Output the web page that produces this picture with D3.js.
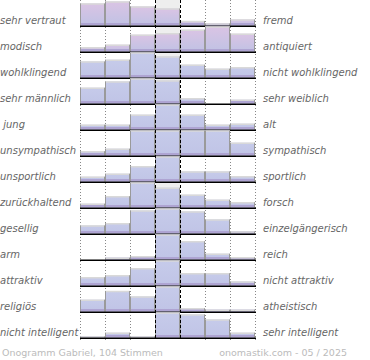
<!DOCTYPE html>
<html><head><meta charset="utf-8">
<script src="https://cdn.jsdelivr.net/npm/d3@7"></script>
<style>
html,body{margin:0;padding:0;background:#fff;}
svg{display:block;}
</style></head>
<body>
<script>
const leftLabels = ["sehr vertraut","modisch","wohlklingend","sehr männlich"," jung","unsympathisch","unsportlich","zurückhaltend","gesellig","arm","attraktiv","religiös","nicht intelligent"];
const rightLabels = ["fremd","antiquiert","nicht wohlklingend","sehr weiblich","alt","sympathisch","sportlich","forsch","einzelgängerisch","reich","nicht attraktiv","atheistisch","sehr intelligent"];
const steps = [1,2,3,4,5,6,7];
const values = [
  [88,96,76,68,18,8,24],
  [17,27,67,73,87,100,71],
  [64,71,100,84,51,35,41],
  [63,88,100,92,21,0,15],
  [19,19,59,100,59,19,23],
  [17,27,100,100,100,100,51],
  [19,31,61,100,40,40,21],
  [15,45,100,79,51,31,21],
  [32,41,92,100,88,56,8],
  [0,7,13,100,73,23,9],
  [33,41,69,100,49,49,16],
  [47,82,60,100,13,7,7],
  [4,19,4,100,92,72,19]
];
const footerLeft = "Onogramm Gabriel, 104 Stimmen";
const footerRight = "onomastik.com - 05 / 2025";

const W = 370, H = 360;
const svg = d3.select("body").append("svg").attr("width", W).attr("height", H);
const defs = svg.append("defs");
const gp = defs.append("linearGradient").attr("id","gPink").attr("x1",0).attr("y1",0).attr("x2",0).attr("y2",1);
gp.append("stop").attr("offset","0%").attr("stop-color","#dac4e4");
gp.append("stop").attr("offset","100%").attr("stop-color","#c0c2e4");
const gb = defs.append("linearGradient").attr("id","gBlue").attr("x1",0).attr("y1",0).attr("x2",0).attr("y2",1);
gb.append("stop").attr("offset","0%").attr("stop-color","#c6cbea");
gb.append("stop").attr("offset","100%").attr("stop-color","#c0c4e6");

const x = d3.scaleBand().domain(steps).range([80, 255]).padding(0);
const y = d3.scaleBand().domain(d3.range(leftLabels.length)).range([0, 338]).padding(0);
const rowH = 25.5;
const h = d3.scaleLinear().domain([0,100]).range([0, 25]).clamp(true);
const base = i => y(i) + rowH;

// center column background
const gBg = svg.append("g");
leftLabels.forEach((_, i) => {
  gBg.append("rect").attr("x", x(4)).attr("y", y(i)).attr("width", x.bandwidth()).attr("height", rowH).attr("fill","#eeeeee");
});

// dotted gridlines
const gridX = [x(1), x(2), x(3), x(6), x(7), x(7)+x.bandwidth()];
svg.append("g").selectAll("line").data(gridX).join("line")
  .attr("x1", d=>d+0.5).attr("x2", d=>d+0.5).attr("y1", 0).attr("y2", 340)
  .attr("stroke","#888").attr("stroke-width",1).attr("stroke-dasharray","1,2");

// bars
const rows = svg.append("g").selectAll("g").data(values).join("g");
rows.each(function(vals, i){
  const g = d3.select(this);
  const b = base(i);
  const fill = i < 2 ? "url(#gPink)" : "url(#gBlue)";
  vals.forEach((v, j) => {
    const s = steps[j];
    const bh = h(v);
    if (bh <= 0) return;
    g.append("rect").attr("x", x(s)).attr("y", b - bh).attr("width", x.bandwidth()).attr("height", bh).attr("fill", fill);
    g.append("rect").attr("x", x(s)).attr("y", b - Math.min(2.5,bh)).attr("width", x.bandwidth()).attr("height", Math.min(2.5,bh)).attr("fill", "#aea4d2");
    g.append("line").attr("x1", x(s)).attr("x2", x(s)+x.bandwidth()).attr("y1", b-bh+0.5).attr("y2", b-bh+0.5).attr("stroke","#d9d9d9").attr("stroke-width",1.5);
    [x(s)+0.5, x(s)+x.bandwidth()-0.5].forEach(px => {
      g.append("line").attr("x1", px).attr("x2", px).attr("y1", b-bh).attr("y2", b).attr("stroke","#9a9a9a").attr("stroke-width",1);
    });
  });
  g.append("line").attr("x1", 80).attr("x2", 256).attr("y1", b+0.75).attr("y2", b+0.75).attr("stroke","#000").attr("stroke-width",1.5);
});

// dashed center lines
svg.append("g").selectAll("line").data([x(4), x(5)]).join("line")
  .attr("x1", d=>d+0.5).attr("x2", d=>d+0.5).attr("y1", 0).attr("y2", 340)
  .attr("stroke","#000").attr("stroke-width",1).attr("stroke-dasharray","3,2");

// labels
const font = "'DejaVu Sans', Verdana, sans-serif";
svg.append("g").selectAll("text").data(leftLabels).join("text")
  .attr("x", 0).attr("y", (d,i)=> base(i) - 2)
  .attr("xml:space","preserve").style("white-space","pre")
  .attr("font-family", font).attr("font-size", 10).attr("font-style","italic").attr("fill","#666")
  .text(d=>d);
svg.append("g").selectAll("text").data(rightLabels).join("text")
  .attr("x", 263).attr("y", (d,i)=> base(i) - 2)
  .attr("font-family", font).attr("font-size", 10).attr("font-style","italic").attr("fill","#666")
  .text(d=>d);

svg.append("text").attr("x", 2).attr("y", 356).attr("font-family", font).attr("font-size", 9.5).attr("fill","#bbb").text(footerLeft);
svg.append("text").attr("x", 347).attr("y", 356).attr("text-anchor","end").attr("font-family", font).attr("font-size", 9.5).attr("fill","#bbb").text(footerRight);
</script>
</body></html>
